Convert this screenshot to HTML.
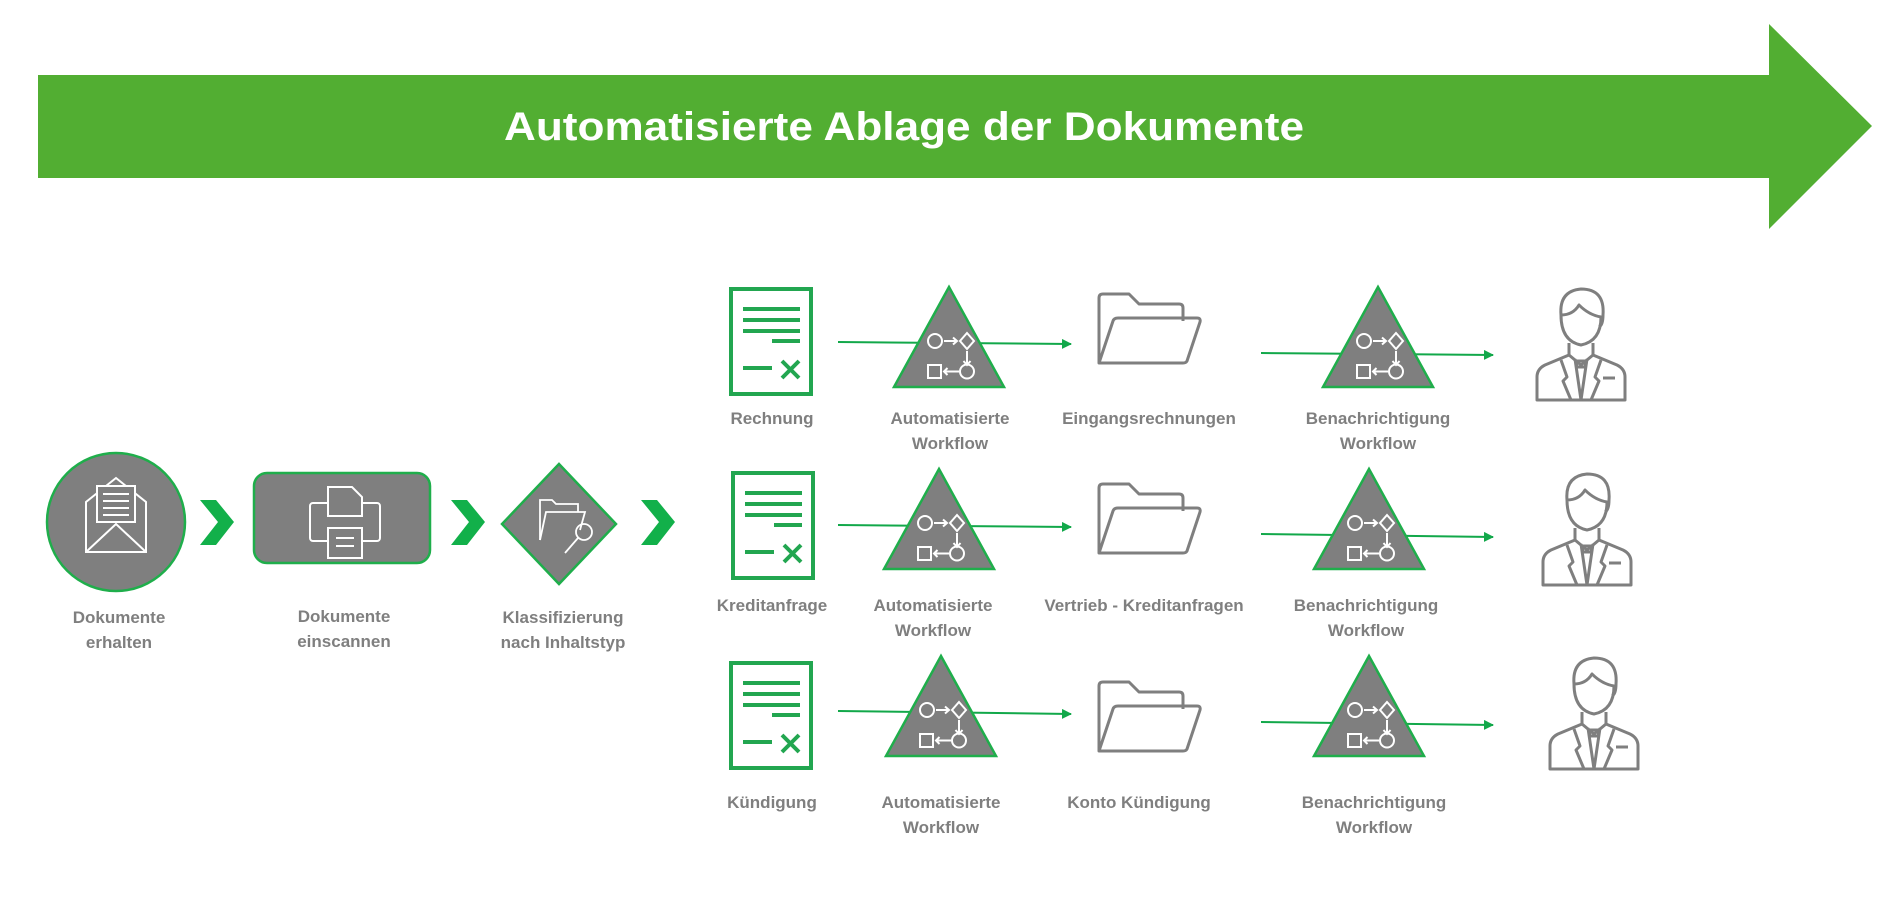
<!DOCTYPE html>
<html><head><meta charset="utf-8"><style>
html,body{margin:0;padding:0;background:#fff;}
svg{display:block}
.l{font-family:"Liberation Sans",sans-serif;font-weight:bold;font-size:17px;fill:#7f7f7f;text-anchor:middle}
</style></head><body>
<svg width="1900" height="900" viewBox="0 0 1900 900" xmlns="http://www.w3.org/2000/svg">
<defs>
<marker id="ah" markerWidth="10" markerHeight="10" refX="9" refY="5" orient="auto" markerUnits="userSpaceOnUse">
<path d="M0,0 L10,5 L0,10 Z" fill="#12a84a"/></marker>
<g id="doc">
<rect x="2" y="2" width="80" height="105" fill="none" stroke="#22a650" stroke-width="4"/>
<g stroke="#22a650" stroke-width="4"><line x1="14" y1="22" x2="71" y2="22"/><line x1="14" y1="33" x2="71" y2="33"/><line x1="14" y1="44" x2="71" y2="44"/><line x1="43" y1="54" x2="71" y2="54"/><line x1="14" y1="81" x2="43" y2="81"/><line x1="53" y1="74" x2="70" y2="91"/><line x1="70" y1="74" x2="53" y2="91"/></g>
</g>
<g id="tri">
<path d="M0,0 L55,100 L-55,100 Z" fill="#7f7f7f" stroke="#1fae4b" stroke-width="2.5"/>
<g fill="none" stroke="#fff" stroke-width="2">
<circle cx="-14" cy="54" r="7"/><path d="M-5,54 H8 M4,50.5 L8,54 L4,57.5"/>
<path d="M18,46 L25,54 L18,62 L11,54 Z"/>
<path d="M18,64 V78 M14.5,74 L18,78 L21.5,74"/>
<rect x="-21" y="78" width="13" height="13"/><path d="M-5,84.5 H10 M-1.5,81 L-5,84.5 L-1.5,88"/>
<circle cx="18" cy="84.5" r="7"/>
</g>
</g>
<g id="fold" fill="none" stroke="#7f7f7f" stroke-width="3" stroke-linejoin="round">
<path d="M4,72 V7 Q4,3 8,3 H34 L44,13 H84 Q88,13 88,17 V30"/>
<path d="M4,72 L18,30 Q19,27 23,27 H102 Q106,27 105,31 L92,70 Q91,72 88,72 Z"/>
</g>
<g id="person" fill="none" stroke="#7f7f7f" stroke-width="3" stroke-linejoin="round">
<path d="M30,30 Q28,6 50,4 Q74,4 72,30 Q72,40 68,42"/>
<path d="M30,30 Q30,56 50,60 Q70,56 70,32 Q58,30 48,20 Q42,30 30,30 Z"/>
<path d="M38,58 V70 L50,80 L62,70 V58"/>
<path d="M38,70 L14,80 Q6,84 6,92 V115 H94 V92 Q94,84 86,80 L62,70"/>
<path d="M44,74 L50,115 L56,74"/><path d="M45,76 H55 L54,82 H46 Z"/>
<path d="M30,75 L36,92 L32,96 L40,115 M70,75 L64,92 L68,96 L60,115"/>
<line x1="72" y1="93" x2="84" y2="93"/>
</g>
</defs>

<path d="M38,75 H1769 V24 L1872,126 L1769,229 V178 H38 Z" fill="#52ae32"/>
<text x="904" y="140" font-family="Liberation Sans, sans-serif" font-weight="bold" font-size="40" fill="#fff" text-anchor="middle" textLength="800" lengthAdjust="spacingAndGlyphs">Automatisierte Ablage der Dokumente</text>

<circle cx="116" cy="522" r="69" fill="#7f7f7f" stroke="#1fae4b" stroke-width="2.5"/>
<g fill="none" stroke="#fff" stroke-width="2">
<path d="M86,502 L86,552 H146 V502 L116,478 Z"/><path d="M86,552 L116,524 L146,552"/>
<rect x="97" y="486" width="38" height="36" fill="#7f7f7f"/>
<path d="M103,494 H129 M103,501 H129 M103,508 H129 M103,515 H129"/>
</g>
<path d="M200,500 H216 L234,522 L216,545 H200 L218,522 Z" fill="#12b04a"/>
<rect x="254" y="473" width="176" height="90" rx="13" fill="#7f7f7f" stroke="#1fae4b" stroke-width="2.5"/>
<g fill="none" stroke="#fff" stroke-width="2">
<rect x="310" y="503" width="70" height="38" rx="3"/>
<path d="M328,487 H352 L362,497 V516 H328 Z" fill="#7f7f7f"/>
<rect x="328" y="528" width="34" height="30" fill="#7f7f7f"/>
<path d="M336,538 H354 M336,546 H354"/>
</g>
<path d="M451,500 H467 L485,522 L467,545 H451 L469,522 Z" fill="#12b04a"/>
<path d="M559,464 L616,524 L559,584 L502,524 Z" fill="#7f7f7f" stroke="#1fae4b" stroke-width="2.5"/>
<g fill="none" stroke="#fff" stroke-width="1.8">
<path d="M540,540 V500 H552 L556,504 H578 V512"/>
<path d="M540,540 L546,512 H585 L580,530"/>
<circle cx="584" cy="532" r="8"/><path d="M578,538 L565,553"/>
</g>
<path d="M641,500 H657 L675,522 L657,545 H641 L659,522 Z" fill="#12b04a"/>
<text class="l" x="119" y="623">Dokumente</text><text class="l" x="119" y="648">erhalten</text>
<text class="l" x="344" y="622">Dokumente</text><text class="l" x="344" y="647">einscannen</text>
<text class="l" x="563" y="623">Klassifizierung</text><text class="l" x="563" y="648">nach Inhaltstyp</text>

<!-- lines first -->
<g stroke="#12a84a" stroke-width="2">
<line x1="838" y1="342" x2="1071" y2="344" marker-end="url(#ah)"/>
<line x1="1261" y1="353" x2="1493" y2="355" marker-end="url(#ah)"/>
<line x1="838" y1="525" x2="1071" y2="527" marker-end="url(#ah)"/>
<line x1="1261" y1="534" x2="1493" y2="537" marker-end="url(#ah)"/>
<line x1="838" y1="711" x2="1071" y2="714" marker-end="url(#ah)"/>
<line x1="1261" y1="722" x2="1493" y2="725" marker-end="url(#ah)"/>
</g>

<use href="#doc" x="729" y="287"/>
<use href="#tri" x="949" y="287"/>
<use href="#fold" x="1095" y="291"/>
<use href="#tri" x="1378" y="287"/>
<use href="#person" x="1531" y="285"/>
<text class="l" x="772" y="424">Rechnung</text>
<text class="l" x="950" y="424">Automatisierte</text><text class="l" x="950" y="449">Workflow</text>
<text class="l" x="1149" y="424">Eingangsrechnungen</text>
<text class="l" x="1378" y="424">Benachrichtigung</text><text class="l" x="1378" y="449">Workflow</text>

<use href="#doc" x="731" y="471"/>
<use href="#tri" x="939" y="469"/>
<use href="#fold" x="1095" y="481"/>
<use href="#tri" x="1369" y="469"/>
<use href="#person" x="1537" y="470"/>
<text class="l" x="772" y="611">Kreditanfrage</text>
<text class="l" x="933" y="611">Automatisierte</text><text class="l" x="933" y="636">Workflow</text>
<text class="l" x="1144" y="611">Vertrieb - Kreditanfragen</text>
<text class="l" x="1366" y="611">Benachrichtigung</text><text class="l" x="1366" y="636">Workflow</text>

<use href="#doc" x="729" y="661"/>
<use href="#tri" x="941" y="656"/>
<use href="#fold" x="1095" y="679"/>
<use href="#tri" x="1369" y="656"/>
<use href="#person" x="1544" y="654"/>
<text class="l" x="772" y="808">Kündigung</text>
<text class="l" x="941" y="808">Automatisierte</text><text class="l" x="941" y="833">Workflow</text>
<text class="l" x="1139" y="808">Konto Kündigung</text>
<text class="l" x="1374" y="808">Benachrichtigung</text><text class="l" x="1374" y="833">Workflow</text>
</svg>
</body></html>
